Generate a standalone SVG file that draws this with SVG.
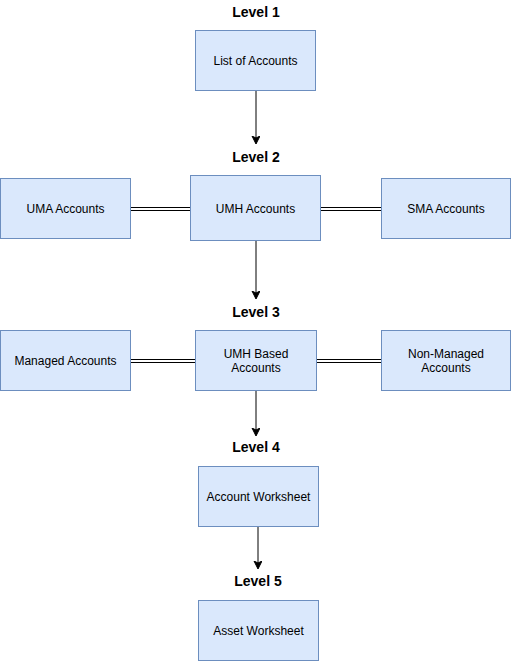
<svg xmlns="http://www.w3.org/2000/svg" width="511" height="661" viewBox="0 0 511 661">
<style>
.box{fill:#dae8fc;stroke:#6c8ebf;stroke-width:1}
.t{font-family:"Liberation Sans",Arial,sans-serif;font-size:12px;fill:#000;text-anchor:middle}
.h{font-family:"Liberation Sans",Arial,sans-serif;font-size:14px;font-weight:bold;fill:#000;text-anchor:middle}
.e{stroke:#000;stroke-width:1;fill:none}
</style>
<defs>
<marker id="ah" markerWidth="10" markerHeight="10" refX="7" refY="4" orient="auto" markerUnits="userSpaceOnUse">
<path d="M0,0 L8,4 L0,8 L2,4 Z" fill="#000" stroke="#000" stroke-width="1"/>
</marker>
</defs>
<rect width="511" height="661" fill="#fff"/>
<g id="labels">
<text class="h" x="256" y="17">Level 1</text>
<text class="h" x="256" y="162">Level 2</text>
<text class="h" x="256" y="317">Level 3</text>
<text class="h" x="256" y="452">Level 4</text>
<text class="h" x="258" y="586">Level 5</text>
</g>
<g id="connectors">
<line class="e" x1="256" y1="90.5" x2="256" y2="143" marker-end="url(#ah)"/>
<line class="e" x1="256" y1="240.5" x2="256" y2="298" marker-end="url(#ah)"/>
<line class="e" x1="256" y1="390.5" x2="256" y2="435" marker-end="url(#ah)"/>
<line class="e" x1="258" y1="526.5" x2="258" y2="568" marker-end="url(#ah)"/>
<path class="e" d="M130.5,207.5 H190 M130.5,210.5 H190"/>
<path class="e" d="M320.5,207.5 H381 M320.5,210.5 H381"/>
<path class="e" d="M130.5,359.5 H195 M130.5,362.5 H195"/>
<path class="e" d="M316.5,359.5 H381 M316.5,362.5 H381"/>
</g>
<g id="list-of-accounts">
<rect class="box" x="195.5" y="30.5" width="120" height="60"/>
<text class="t" x="255.5" y="65">List of Accounts</text>
</g>
<g id="uma-accounts">
<rect class="box" x="0.5" y="178.5" width="130" height="60"/>
<text class="t" x="65.5" y="213">UMA Accounts</text>
</g>
<g id="umh-accounts">
<rect class="box" x="190.5" y="175.5" width="130" height="65"/>
<text class="t" x="255.5" y="213">UMH Accounts</text>
</g>
<g id="sma-accounts">
<rect class="box" x="381.5" y="178.5" width="129" height="60"/>
<text class="t" x="446" y="213">SMA Accounts</text>
</g>
<g id="managed-accounts">
<rect class="box" x="0.5" y="330.5" width="130" height="60"/>
<text class="t" x="65.5" y="365">Managed Accounts</text>
</g>
<g id="umh-based-accounts">
<rect class="box" x="195.5" y="330.5" width="121" height="60"/>
<text class="t" x="256" y="358">UMH Based</text>
<text class="t" x="256" y="372">Accounts</text>
</g>
<g id="non-managed-accounts">
<rect class="box" x="381.5" y="330.5" width="129" height="60"/>
<text class="t" x="446" y="358">Non-Managed</text>
<text class="t" x="446" y="372">Accounts</text>
</g>
<g id="account-worksheet">
<rect class="box" x="198.5" y="466.5" width="120" height="60"/>
<text class="t" x="258.5" y="501">Account Worksheet</text>
</g>
<g id="asset-worksheet">
<rect class="box" x="198.5" y="600.5" width="120" height="60"/>
<text class="t" x="258.5" y="635">Asset Worksheet</text>
</g>
</svg>
